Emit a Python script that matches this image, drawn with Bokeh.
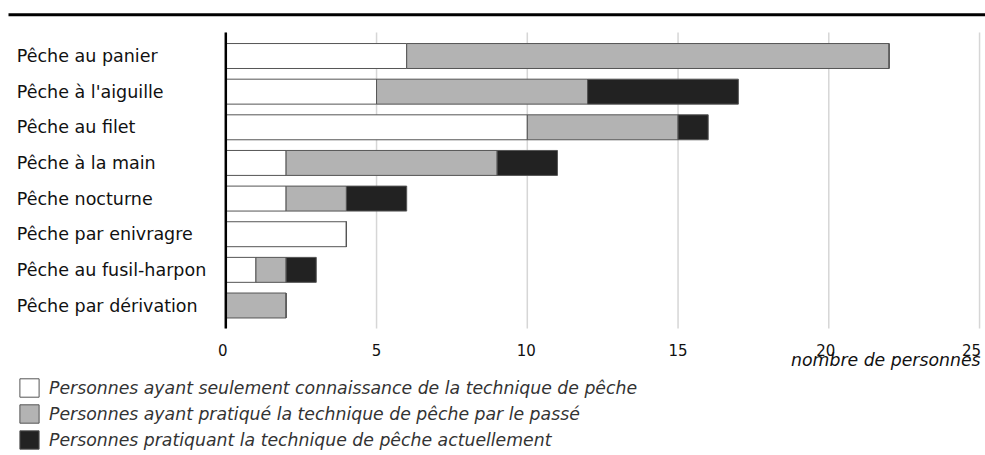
from bokeh.plotting import figure
from bokeh.models import (ColumnDataSource, Range1d, Label, Legend, LegendItem)
from bokeh.embed import file_html
from bokeh.resources import INLINE
from bokeh.core.properties import value

# ---- data ----
categories = ["Pêche au panier", "Pêche à l'aiguille", "Pêche au filet", "Pêche à la main",
              "Pêche nocturne", "Pêche par enivragre", "Pêche au fusil-harpon",
              "Pêche par dérivation"]
connaissance = [6, 5, 10, 2, 2, 4, 1, 0]
passe = [16, 7, 5, 7, 2, 0, 1, 2]
actuel = [0, 5, 1, 2, 2, 0, 1, 0]
x_ticks = [0, 5, 10, 15, 20, 25]
series_labels = ["Personnes ayant seulement connaissance de la technique de pêche",
                 "Personnes ayant pratiqué la technique de pêche par le passé",
                 "Personnes pratiquant la technique de pêche actuellement"]
x_title = "nombre de personnes"

# ---- style / layout constants ----
FONT = "DejaVu Sans"
colors = ["#ffffff", "#b3b3b3", "#222222"]
W, H = 985, 455
PX_X = 30.15          # px per unit along x
X0_PX = 225.3         # canvas x of value 0
ROW_PX = 35.64        # px per row
ROW0_PX = 305.0       # canvas y of the bottom row centre
tick_label_shift = [-3, 0, -1, 0, -3, -8]   # px nudges so the last label stays inside

n = len(categories)
rows = [n - 1 - i for i in range(n)]   # first category on top

def ry(canvas_y):
    return (ROW0_PX - canvas_y) / ROW_PX

def rx(canvas_x):
    return (canvas_x - X0_PX) / PX_X

src = ColumnDataSource(dict(cat=categories, row=rows, connaissance=connaissance,
                            passe=passe, actuel=actuel))

p = figure(width=W, height=H, output_backend="svg", toolbar_location=None,
           x_range=Range1d(rx(0), rx(W)),
           y_range=Range1d(ry(H), ry(0)),
           min_border=0, min_border_left=0, min_border_right=0,
           min_border_top=0, min_border_bottom=0)
p.outline_line_color = None
p.xaxis.visible = False
p.yaxis.visible = False
p.xgrid.visible = False
p.ygrid.visible = False

axis_top, axis_bottom = ry(32), ry(328)

# grid lines (behind bars)
p.segment(x0=x_ticks, x1=x_ticks, y0=[axis_bottom] * len(x_ticks), y1=[axis_top] * len(x_ticks),
          line_color="#d6d6d6", line_width=1.5)

renderers = p.hbar_stack(["connaissance", "passe", "actuel"], y="row", height=0.7,
                         color=colors, line_color="#555555", line_width=1, source=src)

# vertical axis line at 0
p.segment(x0=[0], x1=[0], y0=[axis_bottom], y1=[axis_top], line_color="black", line_width=2.5)

# top rule
p.segment(x0=[rx(8)], x1=[rx(W)], y0=[ry(14.3)], y1=[ry(14.3)], line_color="black", line_width=3)

# category labels
p.text(x=0, y="row", text="cat", source=src, x_offset=-209,
       text_align="left", text_baseline="middle",
       text_font=value(FONT), text_font_size="17.5px", text_color="#111111")

# tick labels
tick_src = ColumnDataSource(dict(x=x_ticks, y=[ry(349)] * len(x_ticks),
                                 t=[str(t) for t in x_ticks], dx=tick_label_shift))
p.text(x="x", y="y", text="t", x_offset="dx", source=tick_src,
       text_align="center", text_baseline="alphabetic",
       text_font=value(FONT), text_font_size="15px", text_color="#111111")

# axis title
p.add_layout(Label(x=x_ticks[-1], y=ry(359), x_offset=1, text=x_title,
                   text_align="right", text_baseline="alphabetic",
                   text_font=FONT, text_font_size="17.3px", text_font_style="italic",
                   text_color="#111111"))

legend = Legend(items=[LegendItem(label=series_labels[i], renderers=[renderers[i]]) for i in range(3)],
                location=(17, 4), margin=0, padding=0,
                glyph_width=24, glyph_height=23, label_height=20, label_standoff=8, spacing=3,
                label_text_font=FONT, label_text_font_size="17.3px", label_text_font_style="italic",
                label_text_color="#333333", border_line_color=None, background_fill_alpha=0)
p.add_layout(legend)

open("out.html", "w").write(file_html(p, INLINE))
